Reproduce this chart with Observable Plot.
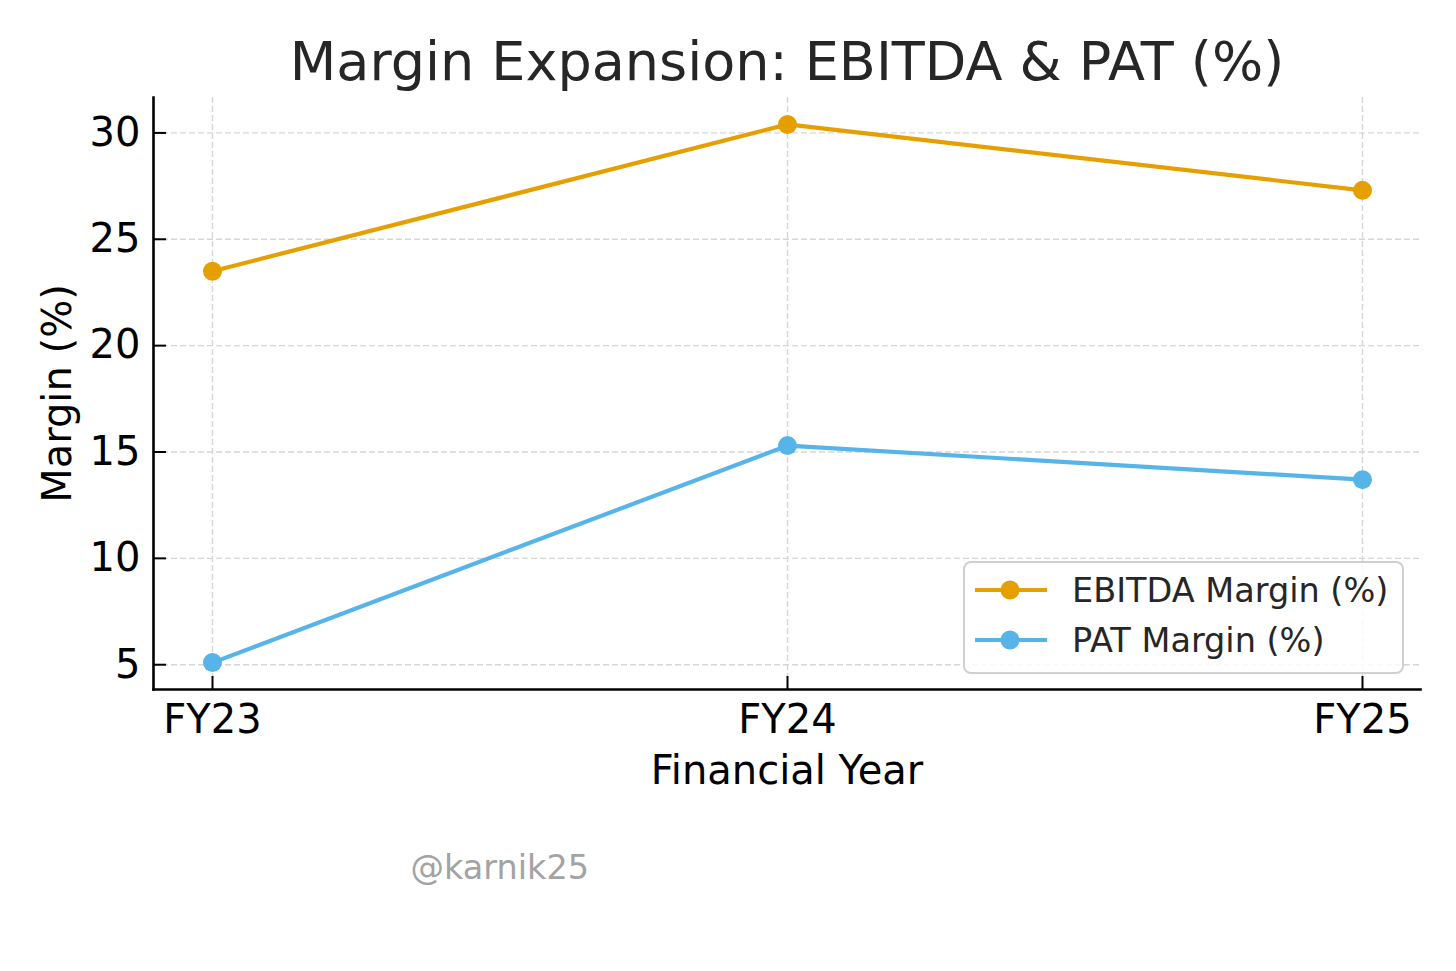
<!DOCTYPE html>
<html>
<head>
<meta charset="utf-8">
<script src="https://cdn.jsdelivr.net/npm/d3@7"></script>
<script src="https://cdn.jsdelivr.net/npm/@observablehq/plot@0.6"></script>
<style>
  html, body { margin: 0; padding: 0; background: #fff; }
  #wrap { position: relative; width: 1456px; height: 971px; font-family: "DejaVu Sans", sans-serif; }
  #legend { position: absolute; left: 963px; top: 561px; }
</style>
</head>
<body>
<div id="wrap">
  <div id="chart"></div>
  <svg id="legend" width="441" height="113"></svg>
</div>
<script>
// ---- data ----
const years = ["FY23", "FY24", "FY25"];
const ebitdaMargin = [23.5, 30.4, 27.3];
const patMargin = [5.1, 15.3, 13.7];
const seriesNames = ["EBITDA Margin (%)", "PAT Margin (%)"];
const seriesColors = ["#E69F00", "#56B4E9"];
const yTicks = [5, 10, 15, 20, 25, 30];
const titleText = "Margin Expansion: EBITDA & PAT (%)";
const xLabel = "Financial Year";
const yLabel = "Margin (%)";
const watermark = "@karnik25";

// ---- build table ----
const seriesValues = [ebitdaMargin, patMargin];
const rows = [];
seriesNames.forEach((s, i) => years.forEach((y, j) => rows.push({series: s, year: y, value: seriesValues[i][j]})));

const W = 1456, H = 971;
const mT = 97, mL = 153, mR = 36, mB = 282;
const frameW = W - mL - mR, frameH = H - mT - mB;

const allVals = rows.map(d => d.value);
const vMin = d3.min(allVals), vMax = d3.max(allVals);
const pad = (vMax - vMin) * 0.05;

const font = "DejaVu Sans";
const gridStyle = {stroke: "#d6d6d6", strokeOpacity: 1, strokeWidth: 1.4, strokeDasharray: "6,3"};

const chart = Plot.plot({
  width: W,
  height: H,
  marginTop: mT,
  marginLeft: mL,
  marginRight: mR,
  marginBottom: mB,
  style: {fontFamily: font, background: "#fff", color: "#000", overflow: "visible"},
  x: {type: "point", domain: years, padding: 0.1},
  y: {domain: [vMin - pad, vMax + pad]},
  color: {domain: seriesNames, range: seriesColors},
  marks: [
    Plot.gridY(yTicks, gridStyle),
    Plot.gridX(years, gridStyle),
    Plot.line(rows, {x: "year", y: "value", z: "series", stroke: "series", strokeWidth: 4.2}),
    Plot.dot(rows, {x: "year", y: "value", fill: "series", r: 9.5}),
    Plot.tickY(yTicks, {y: d => d, insetRight: frameW - 13, stroke: "#000", strokeWidth: 2}),
    Plot.tickX(years, {x: d => d, insetTop: frameH - 13, stroke: "#000", strokeWidth: 2}),
    Plot.frame({anchor: "left", stroke: "#000", strokeWidth: 2.6}),
    Plot.frame({anchor: "bottom", stroke: "#000", strokeWidth: 2.6}),
    Plot.axisY(yTicks, {tickSize: 0, tickPadding: 13, fontSize: 40, label: null, fill: "#000"}),
    Plot.axisX({tickSize: 0, tickPadding: 15, fontSize: 40, label: null, fill: "#000"}),
    Plot.text([titleText], {text: d => d, frameAnchor: "top", lineAnchor: "bottom", dy: -18, fontSize: 54, fill: "#262626"}),
    Plot.text([xLabel], {text: d => d, frameAnchor: "bottom", lineAnchor: "bottom", dy: 94, fontSize: 40, fill: "#000"}),
    Plot.text([yLabel], {text: d => d, frameAnchor: "left", textAnchor: "middle", lineAnchor: "bottom", rotate: -90, dx: -83, fontSize: 40, fill: "#000"}),
    Plot.text([watermark], {text: d => d, frameAnchor: "bottom-left", textAnchor: "start", lineAnchor: "bottom", dx: 257, dy: 189, fontSize: 33.5, fill: "#a3a3a3"})
  ]
});
document.getElementById("chart").appendChild(chart);

// ---- legend ----
const lg = d3.select("#legend");
lg.append("rect").attr("x", 1).attr("y", 1).attr("width", 439).attr("height", 111)
  .attr("rx", 7).attr("fill", "rgba(255,255,255,0.85)").attr("stroke", "#d0d0d0").attr("stroke-width", 2);
seriesNames.forEach((name, i) => {
  const cy = 29 + i * 50;
  lg.append("line").attr("x1", 12).attr("x2", 84).attr("y1", cy).attr("y2", cy)
    .attr("stroke", seriesColors[i]).attr("stroke-width", 4.2);
  lg.append("circle").attr("cx", 47).attr("cy", cy).attr("r", 9.5).attr("fill", seriesColors[i]);
  lg.append("text").attr("x", 109).attr("y", cy + 12).attr("font-family", font)
    .attr("font-size", 33.5).attr("fill", "#262626").text(name);
});
</script>
</body>
</html>
